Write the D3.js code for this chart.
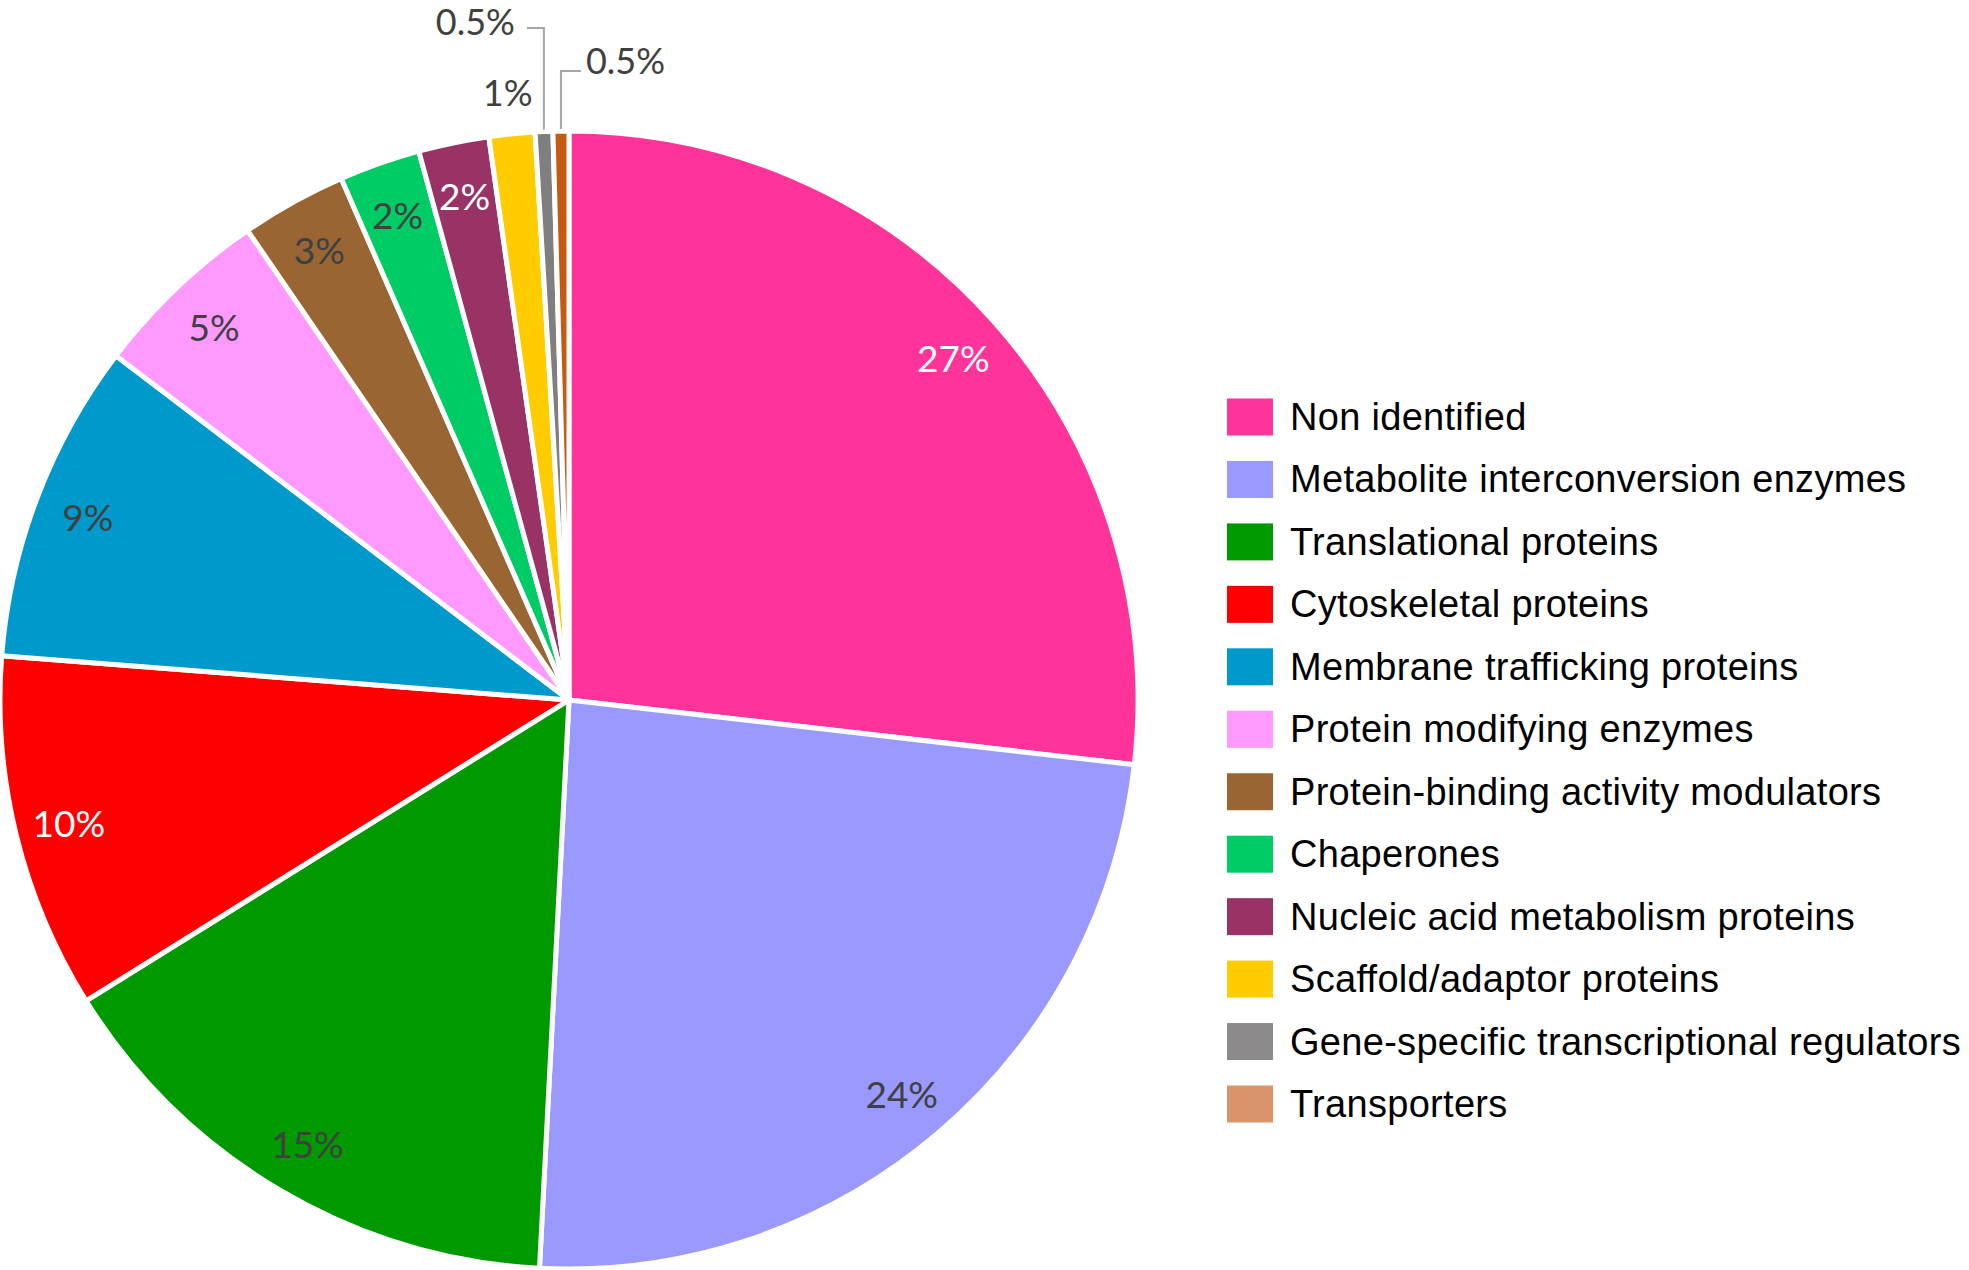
<!DOCTYPE html>
<html>
<head>
<meta charset="utf-8">
<title>Protein classes</title>
<script src="https://cdn.jsdelivr.net/npm/d3@7"></script>
<style>
    html, body { margin: 0; padding: 0; background: #ffffff; }
    #chart { width: 1969px; height: 1270px; }
    .slice-label { font-family: Lato, "Open Sans", sans-serif; font-size: 37px; }
    .slice-label.small { font-size: 36px; }
    .legend-label { font-family: "Liberation Sans", Arial, sans-serif; font-size: 38px; letter-spacing: 0.3px; fill: #000000; }
    .leader { fill: none; stroke: #a6a6a6; stroke-width: 2px; }
</style>
</head>
<body>
<div id="chart"></div>
<script>
// ============================================
// PROTEIN CLASS PIE CHART
// ============================================

// Categories, clockwise from 12 o'clock
const categories = [
    'Non identified',
    'Metabolite interconversion enzymes',
    'Translational proteins',
    'Cytoskeletal proteins',
    'Membrane trafficking proteins',
    'Protein modifying enzymes',
    'Protein-binding activity modulators',
    'Chaperones',
    'Nucleic acid metabolism proteins',
    'Scaffold/adaptor proteins',
    'Gene-specific transcriptional regulators',
    'Transporters'
];

// Share of proteins (%)
const shares = [26.8, 24.0, 15.3, 10.1, 9.1, 5.1, 3.0, 2.3, 2.0, 1.3, 0.5, 0.45];

// Labels as printed on the chart
const shareLabels = ['27%', '24%', '15%', '10%', '9%', '5%', '3%', '2%', '2%', '1%', '0.5%', '0.5%'];

// Slice fills
const sliceColors = [
    '#ff3399', '#9999ff', '#009900', '#ff0000', '#0099cc', '#ff99ff',
    '#996633', '#00cc66', '#993366', '#ffcc00', '#7f7f7f', '#c55a11'
];

// Legend swatches (the last two are lighter than their slices)
const swatchColors = [
    '#ff3399', '#9999ff', '#009900', '#ff0000', '#0099cc', '#ff99ff',
    '#996633', '#00cc66', '#993366', '#ffcc00', '#8c8a8a', '#d9956a'
];

// Label ink per slice
const labelInk = [
    '#ffffff', '#404040', '#404040', '#ffffff', '#404040', '#404040',
    '#404040', '#404040', '#ffffff', '#404040', '#404040', '#404040'
];

const width = 1969;
const height = 1270;
const cx = 569;
const cy = 700;
const radius = 569;

const svg = d3.select('#chart')
    .append('svg')
    .attr('width', width)
    .attr('height', height);

const data = categories.map((name, i) => ({
    name: name,
    value: shares[i],
    label: shareLabels[i],
    color: sliceColors[i],
    swatch: swatchColors[i],
    ink: labelInk[i],
    index: i
}));

const pie = d3.pie()
    .sort(null)
    .value(d => d.value)
    .startAngle(0)
    .endAngle(2 * Math.PI);

const arcs = pie(data);

const arc = d3.arc()
    .innerRadius(0)
    .outerRadius(radius);

// point on a circle of radius r at angle a (clockwise from top)
function polar(a, r) {
    return [cx + r * Math.sin(a), cy - r * Math.cos(a)];
}

const g = svg.append('g')
    .attr('transform', `translate(${cx},${cy})`);

// Slices
g.selectAll('path.slice')
    .data(arcs)
    .enter().append('path')
    .attr('class', 'slice')
    .attr('d', arc)
    .attr('fill', d => d.data.color)
    .attr('stroke', '#ffffff')
    .attr('stroke-width', 5)
    .attr('stroke-linejoin', 'round');

// Inside labels
const insideArc = d3.arc()
    .innerRadius(radius * 0.905)
    .outerRadius(radius * 0.905);

g.selectAll('text.inside')
    .data(arcs.filter(d => d.data.index < 9))
    .enter().append('text')
    .attr('class', 'slice-label')
    .attr('transform', d => `translate(${insideArc.centroid(d)})`)
    .attr('text-anchor', 'middle')
    .attr('dominant-baseline', 'central')
    .attr('fill', d => d.data.ink)
    .text(d => d.data.label);

// Outside label without leader (1%)
const outerArc = d3.arc()
    .innerRadius(radius * 1.074)
    .outerRadius(radius * 1.074);

g.selectAll('text.outside')
    .data(arcs.filter(d => d.data.index === 9))
    .enter().append('text')
    .attr('class', 'slice-label small')
    .attr('transform', d => `translate(${outerArc.centroid(d)})`)
    .attr('text-anchor', 'middle')
    .attr('dominant-baseline', 'central')
    .attr('fill', d => d.data.ink)
    .text(d => d.data.label);

// Labels with leader lines (0.5% slices)
const leaderSpec = {
    10: { rise: 103, run: -17, textDx: -29, textDy: -7, anchor: 'end' },
    11: { rise: 60, run: 20, textDx: 25, textDy: -11, anchor: 'start' }
};

arcs.filter(d => leaderSpec[d.data.index]).forEach(d => {
    const spec = leaderSpec[d.data.index];
    const mid = (d.startAngle + d.endAngle) / 2;
    const start = polar(mid, radius + 2);
    const elbowY = cy - radius - spec.rise;

    svg.append('path')
        .attr('class', 'leader')
        .attr('d', d3.line()([
            start,
            [start[0], elbowY],
            [start[0] + spec.run, elbowY]
        ]));

    svg.append('text')
        .attr('class', 'slice-label small')
        .attr('x', start[0] + spec.textDx)
        .attr('y', elbowY + spec.textDy)
        .attr('text-anchor', spec.anchor)
        .attr('dominant-baseline', 'central')
        .attr('fill', d.data.ink)
        .text(d.data.label);
});

// Legend
const legendY = d3.scalePoint()
    .domain(categories)
    .range([417, 1104]);

const legend = svg.append('g')
    .attr('class', 'legend');

const rows = legend.selectAll('g')
    .data(data)
    .enter().append('g')
    .attr('transform', d => `translate(0,${legendY(d.name)})`);

rows.append('rect')
    .attr('x', 1227)
    .attr('y', -18.5)
    .attr('width', 46)
    .attr('height', 37)
    .attr('fill', d => d.swatch);

rows.append('text')
    .attr('class', 'legend-label')
    .attr('x', 1290)
    .attr('y', 13)
    .text(d => d.name);
</script>
</body>
</html>
